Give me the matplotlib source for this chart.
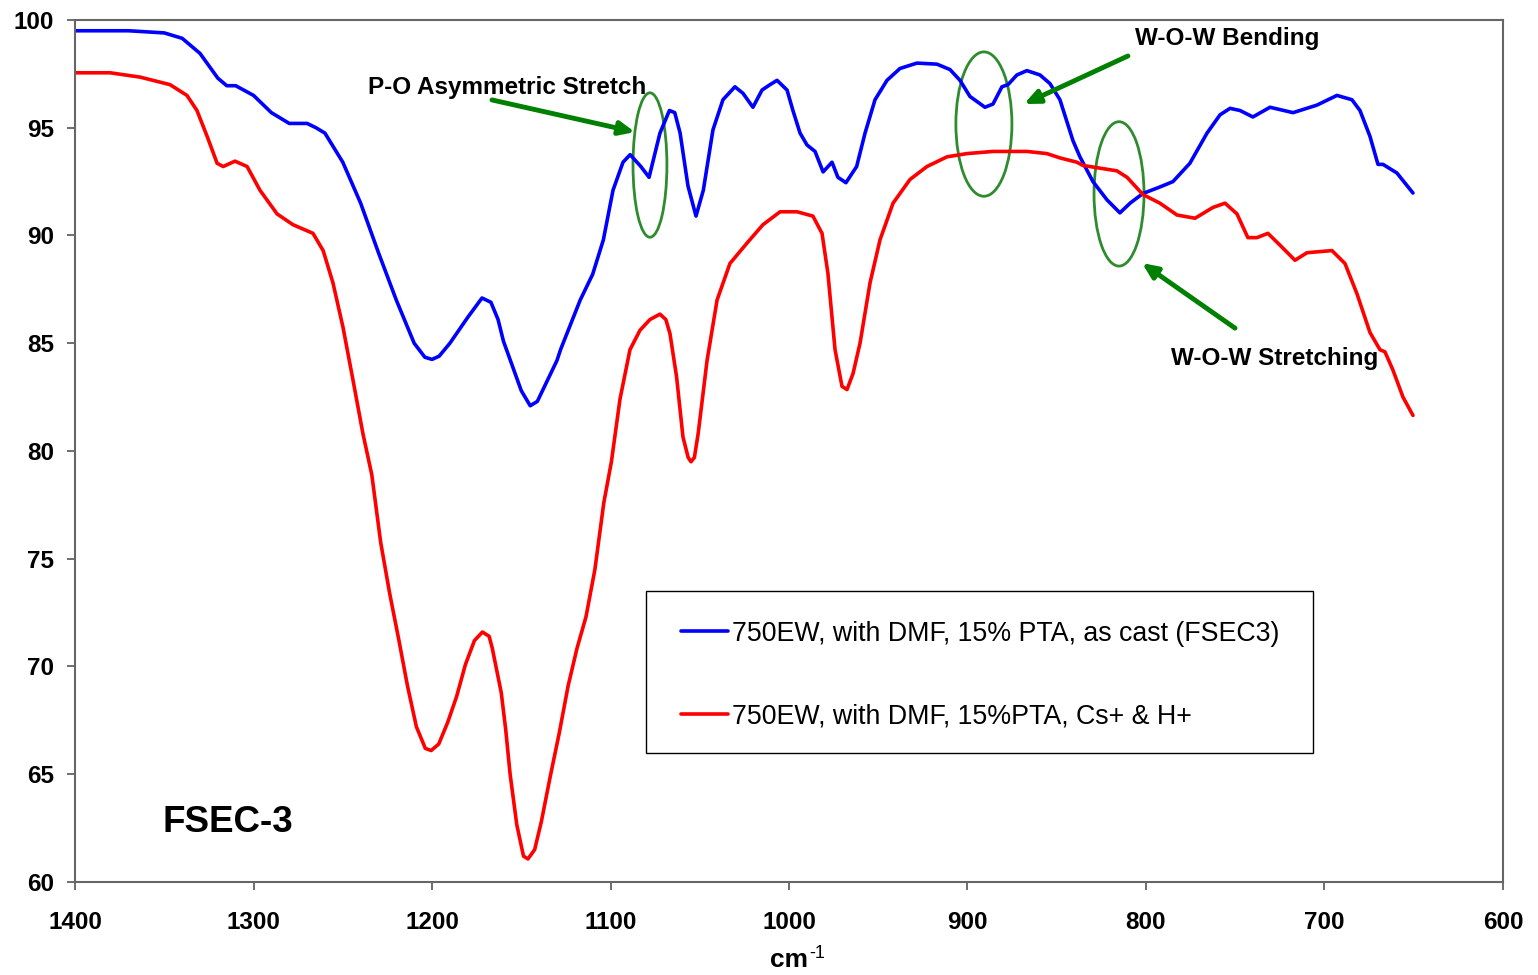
import matplotlib.pyplot as plt
from matplotlib.patches import Ellipse, Rectangle

plt.rcParams['font.family'] = ['Liberation Sans', 'DejaVu Sans']

# blue: as cast (FSEC3)
blue_x = [1400, 1370, 1350, 1340, 1330, 1320, 1315, 1310, 1300, 1290, 1280, 1270, 1265, 1260, 1250,
          1240, 1230, 1220, 1210, 1204, 1200, 1196, 1190, 1180, 1172, 1167, 1163, 1160, 1150, 1145, 1141,
          1130, 1128, 1117, 1110, 1104, 1098.6, 1093, 1089, 1083, 1078.4, 1072.3, 1067, 1064, 1061,
          1056.6, 1052.1, 1048, 1042.6, 1037, 1030.3, 1025.8, 1020.2, 1015.1, 1010.6,
          1006.7, 1001.1, 997.8, 993.8, 989.9, 985.4, 980.9, 975.9, 972.6, 968.1, 962.1,
          957.4, 951.8, 945.1, 937.8, 928.3, 917.1, 909.8, 904.2, 898.6, 890.2, 885.7,
          880.7, 877.3, 872.3, 866.7, 859.4, 853.8, 848.2, 840.9, 837, 829.7, 821.8, 814.6,
          808.9, 801.7, 792.2, 784.9, 775.4, 765.8, 758.5, 752.9, 747.3, 740.1, 730.5,
          717.6, 704.2, 693, 684.6, 680.1, 674.5, 670, 667.2, 659.4, 650.4]
blue_y = [99.5, 99.5, 99.4, 99.15, 98.45, 97.3, 96.95, 96.95, 96.5, 95.7, 95.2, 95.2, 95.0, 94.75, 93.4,
          91.5, 89.2, 87.0, 85.0, 84.35, 84.25, 84.4, 85.0, 86.2, 87.1, 86.9, 86.1, 85.1, 82.8, 82.1, 82.3,
          84.2, 84.7, 87.0, 88.2, 89.8, 92.1, 93.4, 93.75, 93.2, 92.7, 94.75, 95.8, 95.7, 94.75,
          92.3, 90.9, 92.1, 94.9, 96.3, 96.9, 96.6, 95.95, 96.75, 97.0,
          97.2, 96.75, 95.8, 94.75, 94.2, 93.9, 92.95, 93.4, 92.7, 92.45, 93.2,
          94.75, 96.3, 97.2, 97.75, 98.0, 97.95, 97.7, 97.2, 96.45, 95.95, 96.1,
          96.9, 97.0, 97.45, 97.65, 97.45, 97.05, 96.3, 94.4, 93.65, 92.5, 91.65, 91.05,
          91.5, 91.95, 92.25, 92.5, 93.35, 94.75, 95.6, 95.9, 95.8, 95.5, 95.95,
          95.7, 96.05, 96.5, 96.3, 95.8, 94.6, 93.3, 93.3, 92.9, 91.97]

# red: Cs+ & H+
red_x = [1400, 1380.4, 1363.6, 1346.8, 1337.3, 1331.7, 1326, 1320.4, 1317, 1310.4, 1303.6,
         1296.4, 1286.8, 1277.9, 1266.7, 1261, 1255.5, 1249.9, 1244.3, 1238.7, 1233.75,
         1228.75, 1223.75, 1218.75, 1213.75, 1208.75, 1203.75, 1200.5, 1196.25, 1191.25,
         1186.25, 1181.25, 1176.25, 1171.75, 1168, 1166.25, 1161.25, 1158.75, 1156.25, 1152.5,
         1148.75, 1146.25, 1142.5, 1138.75, 1133.75, 1128.75, 1123.75, 1118.75, 1113.75,
         1108.75, 1103.75, 1099.5, 1094.7, 1089.1, 1083.5, 1077.9, 1072.3, 1069, 1066.7, 1063,
         1059.4, 1056.5, 1054.9, 1053, 1050.9, 1045.9, 1040.3, 1033.1, 1023.5, 1014.6, 1005, 995.5,
         986.6, 981.5, 978.2, 974.2, 970.3, 967.5, 964.1, 960.2, 954.6, 949, 941.7, 932.2,
         922.7, 911.5, 900.3, 885.7, 866.7, 855.5, 848.2, 838.7, 835.3, 816.3, 810.6,
         801.7, 792.2, 782.6, 772.5, 762.5, 755.7, 749, 742.9, 737.8, 731.7, 724.9, 716.5,
         709.8, 695.8, 688.5, 681.8, 674.5, 668.9, 666.1, 661.6, 656, 650.4]
red_y = [97.55, 97.55, 97.35, 97.0, 96.5, 95.8, 94.6, 93.35, 93.2, 93.45, 93.2,
         92.1, 91.0, 90.5, 90.1, 89.3, 87.8, 85.75, 83.3, 80.8, 78.9,
         75.75, 73.4, 71.3, 69.1, 67.2, 66.2, 66.1, 66.4, 67.4,
         68.6, 70.1, 71.2, 71.6, 71.4, 70.85, 68.8, 67.1, 65.0, 62.65,
         61.2, 61.07, 61.5, 62.8, 64.9, 66.9, 69.1, 70.85, 72.3,
         74.5, 77.6, 79.5, 82.4, 84.7, 85.6, 86.1, 86.35, 86.1, 85.45, 83.45,
         80.65, 79.7, 79.5, 79.7, 80.8, 84.2, 87.0, 88.7, 89.65, 90.5, 91.1, 91.1,
         90.9, 90.1, 88.25, 84.7, 83.0, 82.85, 83.6, 85.0, 87.8, 89.8, 91.5, 92.6,
         93.2, 93.65, 93.8, 93.9, 93.9, 93.8, 93.6, 93.4, 93.25, 93.0, 92.7,
         91.9, 91.5, 90.95, 90.8, 91.3, 91.5, 91.0, 89.9, 89.9, 90.1, 89.55, 88.85,
         89.2, 89.3, 88.7, 87.3, 85.5, 84.7, 84.6, 83.75, 82.5, 81.65]

labels = ['750EW, with DMF, 15% PTA, as cast (FSEC3)', '750EW, with DMF, 15%PTA, Cs+ & H+']

fig = plt.figure(figsize=(15.38, 9.75), dpi=100)
ax = fig.add_axes([0.0488, 0.0954, 0.9284, 0.8841])

ax.plot(blue_x, blue_y, color='#0000ff', lw=2.6, label=labels[0],
        solid_joinstyle='round', solid_capstyle='round')
ax.plot(red_x, red_y, color='#ff0000', lw=2.6, label=labels[1],
        solid_joinstyle='round', solid_capstyle='round')

ax.set_xlim(1400, 600)
ax.set_ylim(60, 100)
ax.set_xticks(range(1400, 599, -100))
ax.set_yticks(range(60, 101, 5))
ax.tick_params(direction='out', length=6, width=1.2, color='#555555', labelsize=17.5)
ax.tick_params(axis='x', pad=15)
ax.tick_params(axis='y', pad=9)
for lab in ax.get_xticklabels() + ax.get_yticklabels():
    lab.set_fontweight('bold')
for s in ax.spines.values():
    s.set_color('#666666')
    s.set_linewidth(1.5)
ax.set_xlabel('cm', fontsize=19, fontweight='bold', labelpad=10)
ax.annotate('-1', xy=(1.0, 1.0), xycoords=ax.xaxis.label, xytext=(1, 2), textcoords='offset points',
            fontsize=13, ha='left', va='top')

# annotations
green = '#008000'
for cx, cy, w in [(1077.9, 93.27, 19), (890.8, 95.17, 31.4), (815.1, 91.93, 28)]:
    ax.add_patch(Ellipse((cx, cy), w, 6.7, fill=False, ec='#2e8b2e', lw=2))

arrow = dict(arrowstyle='-|>,head_length=0.9,head_width=0.4', color=green, lw=3.5, shrinkA=0, shrinkB=0)
ax.annotate('', xy=(1086.3, 94.8), xytext=(1166.4, 96.29), arrowprops=arrow)
ax.annotate('', xy=(868.3, 96.1), xytext=(810.1, 98.33), arrowprops=arrow)
ax.annotate('', xy=(802.2, 88.72), xytext=(750.1, 85.7), arrowprops=arrow)

ax.text(1157.8, 96.85, 'P-O Asymmetric Stretch', fontsize=17.5, fontweight='bold', ha='center', va='center')
ax.text(754.6, 99.15, 'W-O-W Bending', fontsize=17.5, fontweight='bold', ha='center', va='center')
ax.text(727.7, 84.3, 'W-O-W Stretching', fontsize=17.5, fontweight='bold', ha='center', va='center')
ax.text(1314.3, 62.78, 'FSEC-3', fontsize=26.5, fontweight='bold', ha='center', va='center')

# legend box and entries
ax.add_patch(Rectangle((0.3999, 0.1497), 0.467, 0.1879, transform=ax.transAxes,
                       fill=True, fc='white', ec='black', lw=1.0, zorder=4))
leg = ax.legend(loc='upper left', bbox_to_anchor=(0.4244, 0.3031), fontsize=19.3, frameon=False,
                borderpad=0, labelspacing=2.1, handlelength=1.75, handletextpad=0.15, borderaxespad=0)
leg.set_zorder(5)

fig.savefig('out.png', dpi=100)
